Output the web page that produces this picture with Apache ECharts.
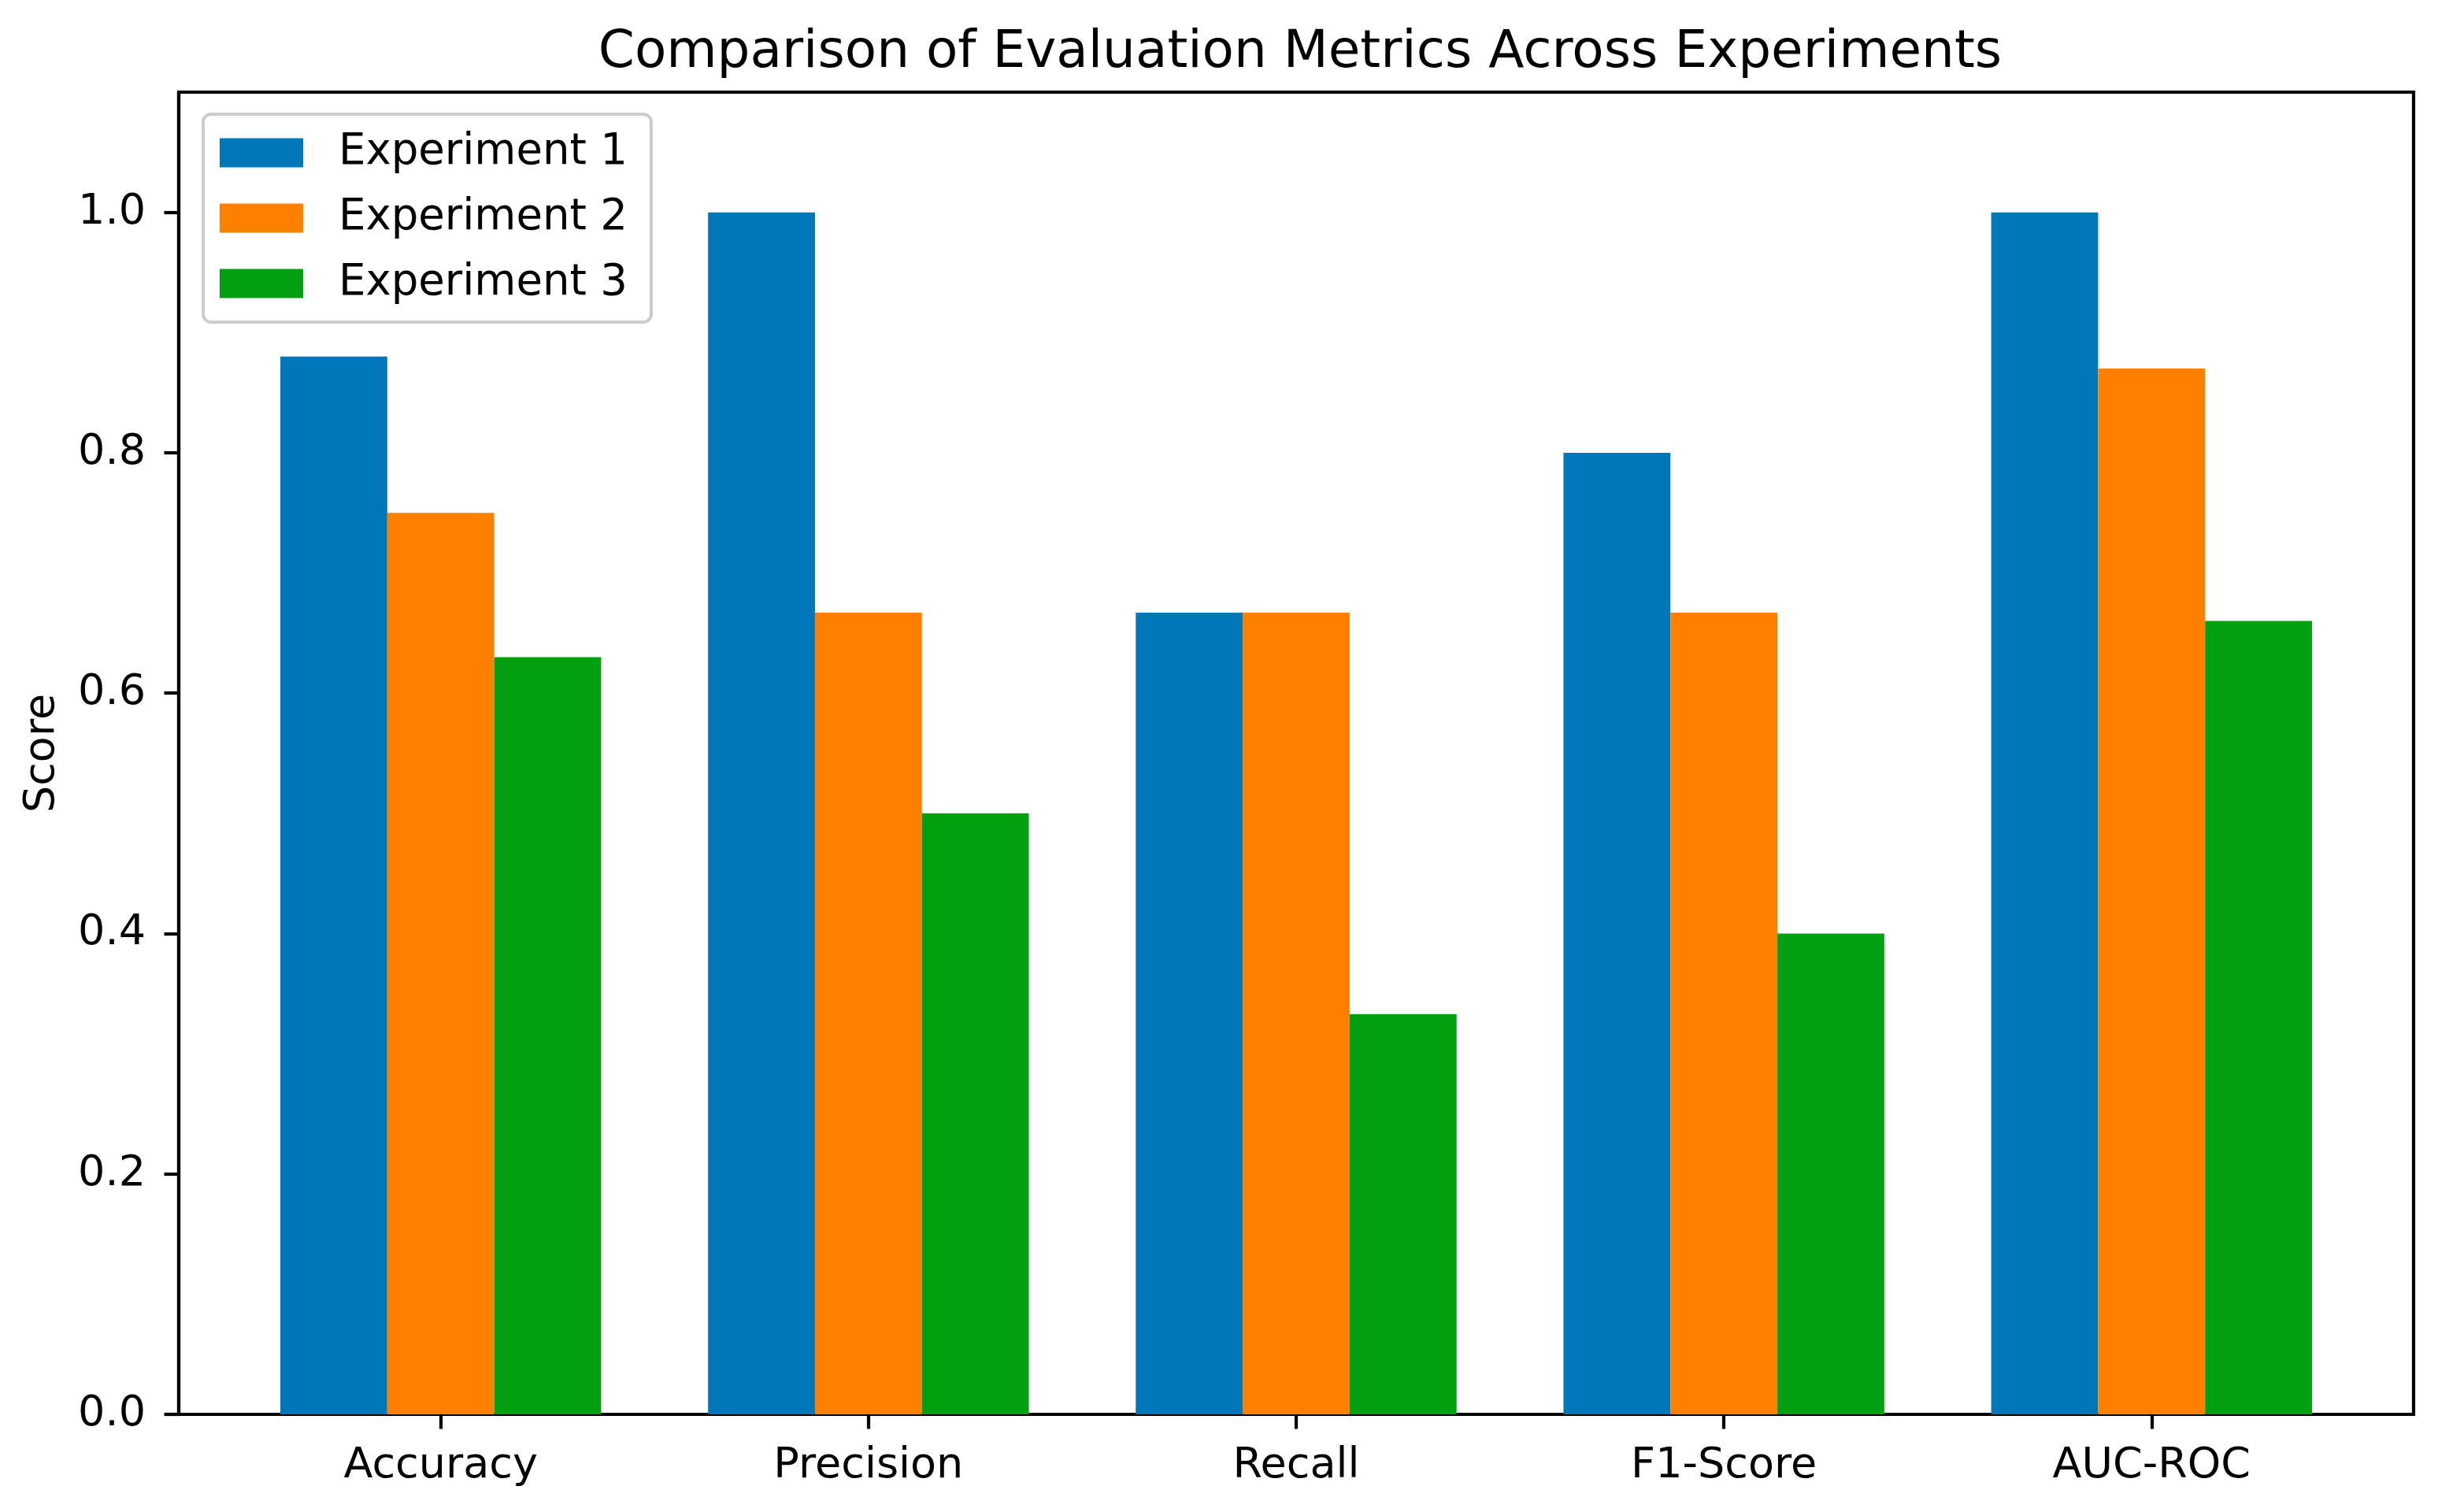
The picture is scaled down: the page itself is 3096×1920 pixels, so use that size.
<!DOCTYPE html>
<html>
<head>
<meta charset="utf-8">
<script src="https://cdn.jsdelivr.net/npm/echarts@6/dist/echarts.min.js"></script>
<style>
  html, body { margin: 0; padding: 0; background: #ffffff; }
  #chart { width: 3096px; height: 1920px; }
</style>
</head>
<body>
<div id="chart"></div>
<script>
const categories = ['Accuracy', 'Precision', 'Recall', 'F1-Score', 'AUC-ROC'];
const seriesNames = ['Experiment 1', 'Experiment 2', 'Experiment 3'];
const experiment1 = [0.88, 1.0, 0.667, 0.8, 1.0];
const experiment2 = [0.75, 0.667, 0.667, 0.667, 0.87];
const experiment3 = [0.63, 0.5, 0.333, 0.4, 0.66];
const yTicks = [0.0, 0.2, 0.4, 0.6, 0.8, 1.0];
const colors = ['#0077b8', '#ff8000', '#00a010'];

const FONT = 'DejaVu Sans';
const LW = 4.2;
const allSeries = [experiment1, experiment2, experiment3];
const xTicks = categories.map((c, i) => i);

const chart = echarts.init(document.getElementById('chart'), null, { renderer: 'canvas' });

const option = {
  backgroundColor: '#ffffff',
  animation: false,
  textStyle: { fontFamily: FONT },
  title: {
    text: 'Comparison of Evaluation Metrics Across Experiments',
    left: 1646,
    textAlign: 'center',
    top: 30,
    textStyle: { fontFamily: FONT, fontSize: 66, fontWeight: 'normal', color: '#000000' }
  },
  legend: {
    orient: 'vertical',
    left: 258,
    top: 145,
    padding: [18, 30, 18, 21],
    itemWidth: 106,
    itemHeight: 37,
    itemGap: 21,
    icon: 'rect',
    backgroundColor: 'rgba(255,255,255,0.8)',
    borderColor: '#cccccc',
    borderWidth: 4,
    borderRadius: 10,
    textStyle: { fontFamily: FONT, fontSize: 54.5, color: '#000000', lineHeight: 62, padding: [0, 0, 0, 40] },
    data: seriesNames
  },
  grid: {
    left: 227,
    right: 31,
    top: 117,
    bottom: 124,
    show: true,
    borderColor: '#000000',
    borderWidth: LW,
    backgroundColor: 'transparent'
  },
  xAxis: {
    type: 'value',
    min: -0.6125,
    max: 4.6125,
    splitLine: { show: false },
    axisLine: { show: true, onZero: false, lineStyle: { color: '#000000', width: LW } },
    axisTick: { show: true, length: 18.5, lineStyle: { color: '#000000', width: LW }, customValues: xTicks },
    axisLabel: {
      show: true,
      customValues: xTicks,
      margin: 39,
      fontFamily: FONT,
      fontSize: 54,
      color: '#000000',
      formatter: (v) => categories[Math.round(v)] || ''
    }
  },
  yAxis: {
    type: 'value',
    min: 0,
    max: 1.1,
    name: 'Score',
    nameLocation: 'middle',
    nameGap: 146,
    nameTextStyle: { fontFamily: FONT, fontSize: 54, color: '#000000' },
    splitLine: { show: false },
    axisLine: { show: true, onZero: false, lineStyle: { color: '#000000', width: LW } },
    axisTick: { show: true, length: 18.5, lineStyle: { color: '#000000', width: LW }, customValues: yTicks },
    axisLabel: {
      show: true,
      customValues: yTicks,
      margin: 42,
      fontFamily: FONT,
      fontSize: 54,
      color: '#000000',
      formatter: (v) => Number(v).toFixed(1)
    }
  },
  series: seriesNames.map((name, s) => ({
    name: name,
    type: 'bar',
    barWidth: '25%',
    barGap: '0%',
    itemStyle: { color: colors[s] },
    data: allSeries[s].map((v, i) => [i, v])
  }))
};

chart.setOption(option);
</script>
</body>
</html>
